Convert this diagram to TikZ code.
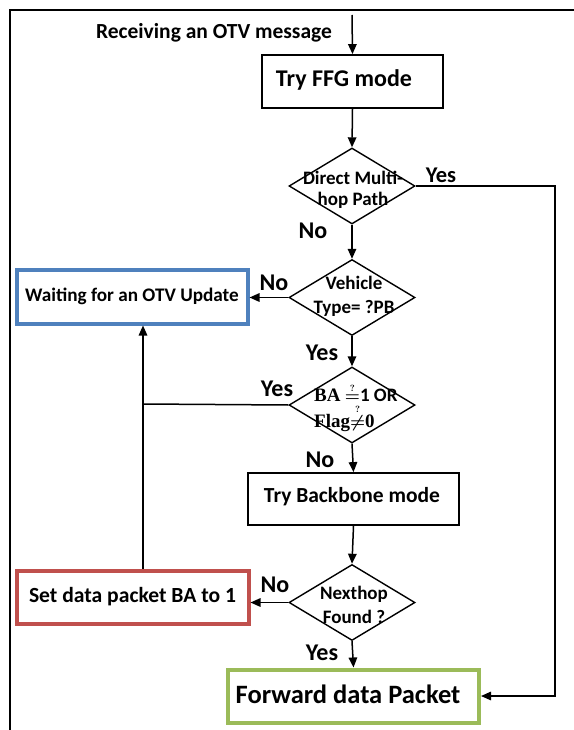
\documentclass[tikz,border=0pt]{standalone}
\usepackage{fontspec}
\usepackage{amsmath}
\setmainfont{Carlito}
\newfontfamily\serifb{Liberation Serif}
\usetikzlibrary{shapes.geometric,arrows.meta}
\definecolor{bblue}{HTML}{4F81BD}
\definecolor{bred}{HTML}{C0504D}
\definecolor{bgreen}{HTML}{9BBB59}
\tikzset{
  ln/.style={line width=1.5pt},
  arr/.style={ln,-{Triangle[length=10pt,width=8.5pt]}},
  procbox/.style={draw,line width=1.8pt,inner sep=0pt},
  colbox/.style={draw,line width=4pt,inner sep=0pt},
  dia/.style={draw,diamond,line width=1.4pt,minimum width=126pt,minimum height=76pt,inner sep=0pt},
  dtext/.style={font=\bfseries\fontsize{19}{24}\selectfont,align=center,inner sep=0pt},
  lab/.style={font=\bfseries\fontsize{24}{26}\selectfont,inner sep=0pt},
}
\begin{document}
\begin{tikzpicture}[x=1pt,y=-1pt]
\useasboundingbox (0,0) rectangle (573,730);
% frame
\coordinate (ftl) at (10,10);
\coordinate (ftr) at (574,10);
\coordinate (fbl) at (10,731);
\draw[ln] (ftr) -- (ftl) -- (fbl);
% title
\node[font=\bfseries\fontsize{21.5}{24}\selectfont,inner sep=0pt] (recv) at (214,33) {Receiving an OTV message};
\coordinate (start) at (352,15);
% boxes
\node[procbox,minimum width=181pt,minimum height=53pt] (ffg) at (352.5,81.5) {};
\node[font=\bfseries\fontsize{24}{26}\selectfont,inner sep=0pt] (ffgt) at (344,80) {Try FFG mode};
\node[dia] (d1) at (352,186) {};
\node[dtext,font=\bfseries\fontsize{19}{21}\selectfont] (t1) at (353,190) {Direct Multi-\\hop Path};
\node[dia] (d2) at (352,297.5) {};
\node[dtext] (t2) at (354,296) {Vehicle\\Type= ?PB};
\node[dia] (d3) at (352,405) {};
\node[dtext,font=\bfseries\fontsize{19}{26}\selectfont,align=left,anchor=west] (t3) at (314,408) {{\serifb\bfseries BA} $\mathrel{\boldsymbol{\overset{\scriptscriptstyle ?}{=}}}$1 OR\\{\serifb\bfseries Flag}$\mathrel{\boldsymbol{\overset{\scriptscriptstyle ?}{\neq}}}${\serifb\bfseries 0}};
\node[procbox,minimum width=211pt,minimum height=52pt] (bb) at (353.5,499) {};
\node[font=\bfseries\fontsize{21.5}{24}\selectfont,inner sep=0pt] (bbt) at (352,497) {Try Backbone mode};
\node[dia] (d4) at (352,602.5) {};
\node[dtext] (t4) at (354,605) {Nexthop\\Found ?};
\node[colbox,draw=bblue,minimum width=231pt,minimum height=54pt,font=\bfseries\fontsize{19.2}{22}\selectfont] (wait) at (132,296.5) {Waiting for an OTV Update};
\node[colbox,draw=bred,minimum width=232pt,minimum height=53pt,font=\bfseries\fontsize{21.6}{24}\selectfont] (red) at (132.5,597) {Set data packet BA to 1};
\node[colbox,draw=bgreen,minimum width=251pt,minimum height=53pt] (fwd) at (353.5,696) {};
\node[font=\bfseries\fontsize{26.5}{30}\selectfont,inner sep=0pt] (fwdt) at (348,694) {Forward data Packet};
% connectors
\draw[arr] (start) -- (ffg.north);
\draw[arr] (ffg.south) -- (d1.north);
\draw[arr] (d1.south) -- (d2.north);
\draw[arr] (d2.south) -- (d3.north);
\draw[arr] (d3.south) -- (bb.north);
\draw[arr] (bb.south) -- (d4.north);
\draw[arr] (d4.south) -- (fwd.north);
\draw[arr] (d2.west) -- (d2.west -| wait.east);
\draw[arr] (d4.west) -- (d4.west -| red.east);
\coordinate (yr) at (555,186);
\draw[arr] (d1.east) -- (yr) |- (fwd.east);
\coordinate (jn) at (143,404);
\draw[ln] (d3.west) -- (jn);
\draw[arr] (red.north -| jn) -- (wait.south -| jn);
% labels
\node[lab,font=\bfseries\fontsize{22.5}{24}\selectfont] (y1) at (441,175) {Yes};
\node[lab] (n1) at (313,231) {No};
\node[lab] (n2) at (274,283) {No};
\node[lab] (y2) at (322,353) {Yes};
\node[lab] (y3) at (277,389) {Yes};
\node[lab] (n3) at (320,460) {No};
\node[lab] (n4) at (275,585) {No};
\node[lab] (y4) at (322,653) {Yes};
\end{tikzpicture}
\end{document}
